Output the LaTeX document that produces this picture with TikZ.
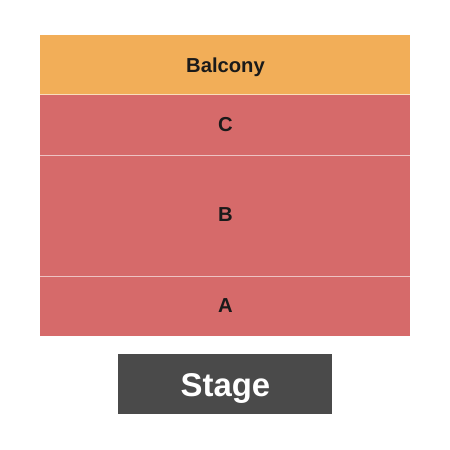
\documentclass[tikz,border=0pt]{standalone}
\usepackage{fontspec}
\setmainfont{Liberation Sans}
\definecolor{balc}{HTML}{F2AE58}
\definecolor{sect}{HTML}{D66A6A}
\definecolor{stagec}{HTML}{4A4A4A}
\definecolor{txt}{HTML}{1A1A1A}
\begin{document}
\begin{tikzpicture}[x=1bp,y=-1bp,
  zone/.style={draw=none,inner sep=0pt,outer sep=0pt,minimum width=370bp},
  lbl/.style={anchor=base,inner sep=0pt,font=\bfseries\fontsize{20.3}{20.3}\selectfont,text=txt},
  sep/.style={draw=white,line width=1bp,opacity=0.6}]
\useasboundingbox (0,0) rectangle (450,450);
\fill[white] (0,0) rectangle (450,450);
\node[zone,fill=balc,minimum height=60bp] (balcony) at (225,65) {};
\node[zone,fill=sect,minimum height=60.5bp] (c) at (225,125.25) {};
\node[zone,fill=sect,minimum height=121bp] (b) at (225,216) {};
\node[zone,fill=sect,minimum height=59.5bp] (a) at (225,306.25) {};
\draw[sep] (balcony.south west) -- (balcony.south east);
\draw[sep] (c.south west) -- (c.south east);
\draw[sep] (b.south west) -- (b.south east);
\node[lbl] (lbalcony) at (225.5,73) {Balcony};
\node[lbl] (lc) at (225.5,131.5) {C};
\node[lbl] (lb) at (225.5,221.5) {B};
\node[lbl] (la) at (225.5,312) {A};
\node[draw=none,fill=stagec,inner sep=0pt,minimum width=214bp,minimum height=60bp] (stage) at (225,384) {};
\node[anchor=base,inner sep=0pt,text=white,font=\bfseries\fontsize{33}{33}\selectfont] (lstage) at (225.5,396.5) {Stage};
\end{tikzpicture}
\end{document}
